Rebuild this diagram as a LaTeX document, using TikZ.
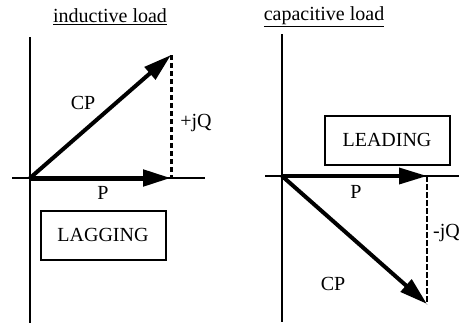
\documentclass[tikz,border=0pt]{standalone}
\usepackage{fontspec}
\setmainfont{Liberation Serif}
\usetikzlibrary{arrows.meta, positioning}
\tikzset{
  axis/.style  ={draw=black, line width=2.4pt},
  vec/.style   ={-{Triangle[length=28pt, width=16pt]}, draw=black, line width=4pt},
  dsh/.style   ={draw=black, line width=3pt, dash pattern=on 5pt off 3pt},
  lbl/.style   ={font=\fontsize{20}{24}\selectfont, inner sep=1pt},
  box/.style   ={rectangle, draw=black, line width=2pt, minimum width=125pt,
                 minimum height=49pt, font=\fontsize{20}{24}\selectfont},
}
\begin{document}
\begin{tikzpicture}[x=1pt, y=-1pt]
\useasboundingbox (0,0) rectangle (459,327);
% inductive load
\coordinate (oL) at (30,178);
\coordinate (pL) at (171,178);
\coordinate (qL) at (171,55);
\draw[axis] (30,37) -- (30,323);
\draw[axis] (12,178) -- (205,178);
\draw[vec, line width=5pt] (oL) -- (pL);
\draw[vec] (oL) -- (qL);
\draw[dsh] (qL) -- (pL);
\node[lbl] (tL) at (110,17) {\underline{inductive load}};
\node[lbl] (cpL) at (83,103) {CP};
\node[lbl] (jqL) at (196,123) {+jQ};
\node[lbl] (pLl) at (103,193) {P};
\node[box] (lag) at (103,235) {LAGGING};
% capacitive load
\coordinate (oR) at (282,176);
\coordinate (pR) at (427,176);
\coordinate (qR) at (427,304);
\draw[axis] (282,34) -- (282,322);
\draw[axis] (265,176) -- (459,176);
\draw[vec, line width=3.5pt] (oR) -- (pR);
\draw[vec] (oR) -- (qR);
\draw[dsh, line width=2.4pt, dash pattern=on 6pt off 2pt] (pR) -- (qR);
\node[lbl] (tR) at (324,17) {\underline{capacitive load}};
\node[lbl] (cpR) at (333,284) {CP};
\node[lbl, anchor=west] (jqR) at (432,233) {-jQ};
\node[lbl] (pRl) at (356,192) {P};
\node[box] (lead) at (387,140) {LEADING};
\end{tikzpicture}
\end{document}
